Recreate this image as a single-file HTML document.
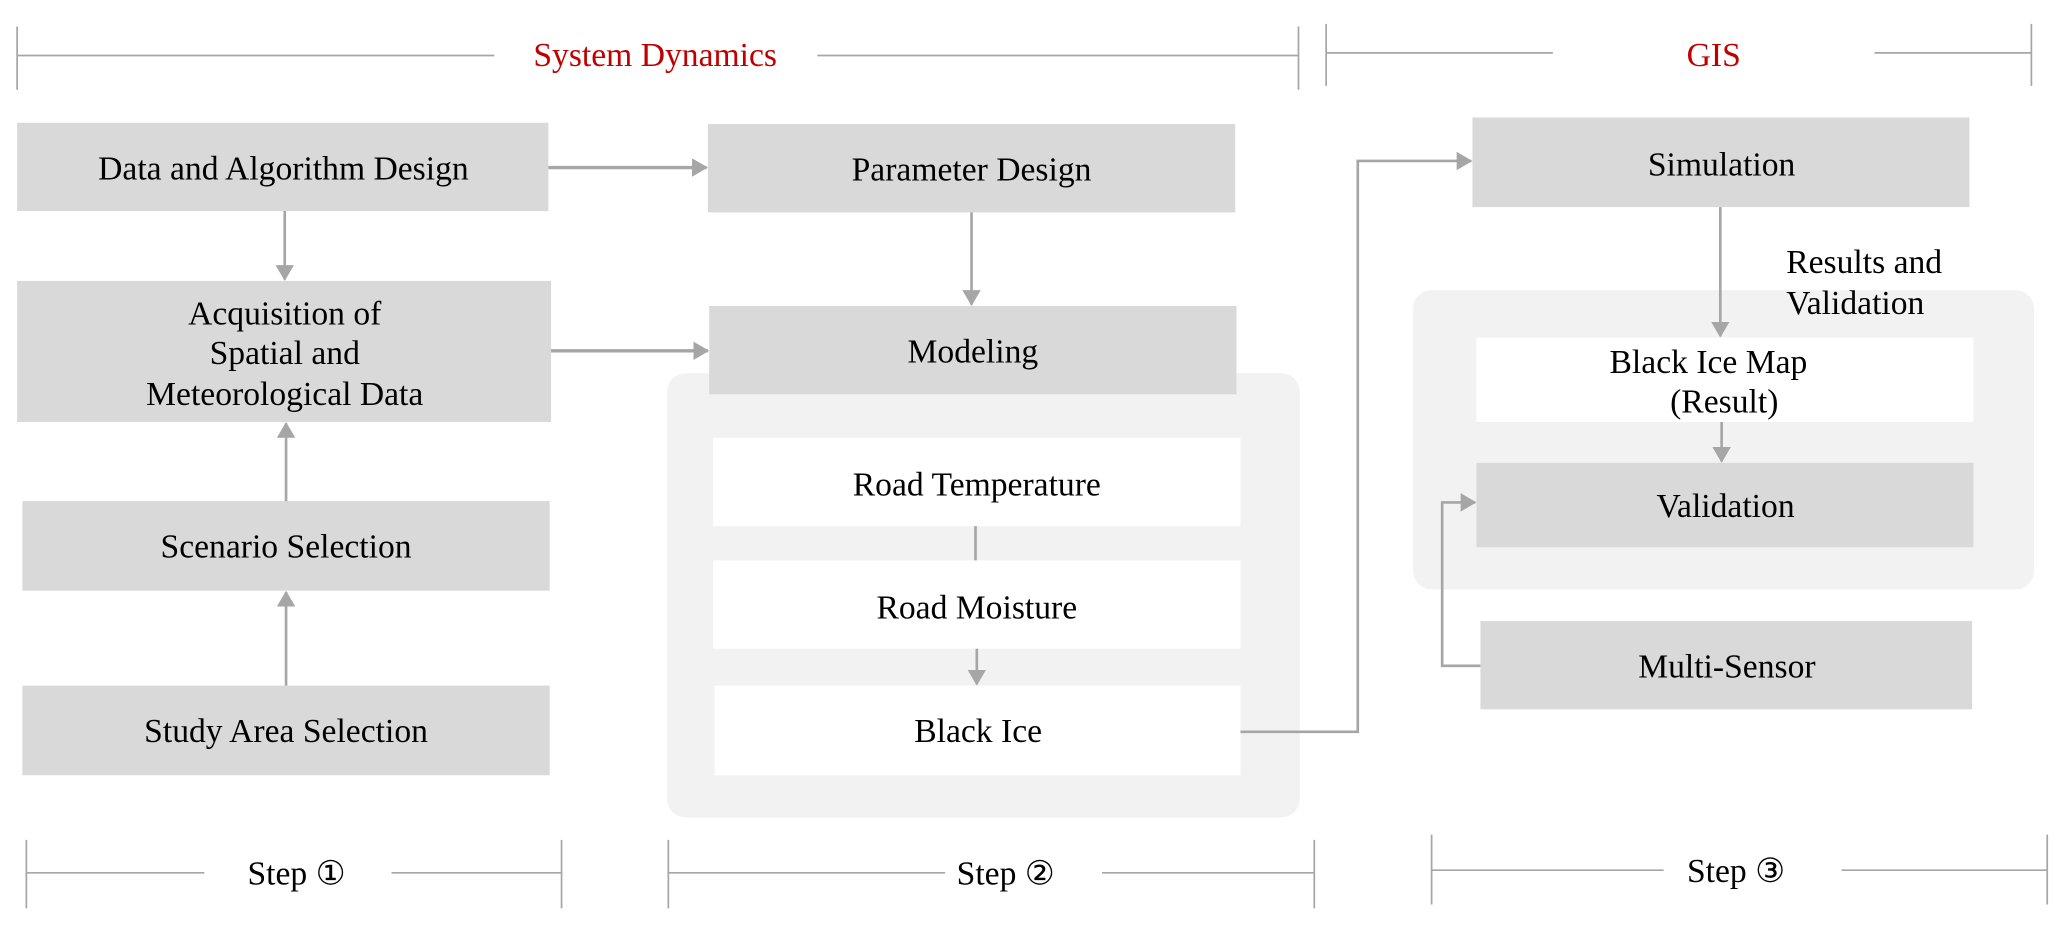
<!DOCTYPE html>
<html><head><meta charset="utf-8"><style>html,body{margin:0;padding:0;background:#fff}svg{display:block}</style></head>
<body>
<svg width="2067" height="927" viewBox="0 0 1568 703" xmlns="http://www.w3.org/2000/svg" font-family="'Liberation Serif', serif" font-size="25.5">
<defs>
<marker id="b" markerWidth="12" markerHeight="14" refX="11" refY="7" orient="auto" markerUnits="userSpaceOnUse"><path d="M0,0 L12,7 L0,14 Z" fill="#a6a6a6"/></marker>
</defs>
<g stroke="#a6a6a6" stroke-width="1.3" fill="none">
<path d="M13,20V68M985,20V68M13,42H375M620,42H985"/>
<path d="M1006,18V65M1541,18V65M1006,40H1178M1422,40H1541"/>
<path d="M20,637V689M426,637V689M20,662H155M297,662H426"/>
<path d="M507,637V689M997,637V689M507,662H717M836,662H997"/>
<path d="M1086,633V686M1553,633V686M1086,660H1262M1397,660H1553"/>
</g>
<g fill="#c00000" text-anchor="middle" dominant-baseline="central">
<text x="497" y="42">System Dynamics</text>
<text x="1300" y="42">GIS</text>
</g>
<rect x="506" y="283" width="480" height="337" rx="14" fill="#f2f2f2"/>
<rect x="1072" y="220" width="471" height="227" rx="14" fill="#f2f2f2"/>
<g fill="#d9d9d9">
<rect x="13" y="93" width="403" height="67"/>
<rect x="13" y="213" width="405" height="107"/>
<rect x="17" y="380" width="400" height="68"/>
<rect x="17" y="520" width="400" height="68"/>
<rect x="537" y="94" width="400" height="67"/>
<rect x="538" y="232" width="400" height="67"/>
<rect x="1117" y="89" width="377" height="68"/>
<rect x="1120" y="351" width="377" height="64"/>
<rect x="1123" y="471" width="373" height="67"/>
</g>
<g fill="#fff">
<rect x="541" y="332" width="400" height="67"/>
<rect x="541" y="425" width="400" height="67"/>
<rect x="542" y="520" width="399" height="68"/>
<rect x="1120" y="256" width="377" height="64"/>
</g>
<g stroke="#a6a6a6" stroke-width="2" fill="none">
<path d="M416,127H536" marker-end="url(#b)" stroke-width="2.5"/>
<path d="M418,266H537" marker-end="url(#b)" stroke-width="2.5"/>
<path d="M216,160V212" marker-end="url(#b)"/>
<path d="M217,380V321" marker-end="url(#b)"/>
<path d="M217,520V449" marker-end="url(#b)"/>
<path d="M737,161V231" marker-end="url(#b)"/>
<path d="M740,399V425"/>
<path d="M741,492V519" marker-end="url(#b)"/>
<path d="M941,555H1030V122H1116" marker-end="url(#b)"/>
<path d="M1305,157V255" marker-end="url(#b)"/>
<path d="M1306,320V350" marker-end="url(#b)"/>
<path d="M1123,505H1094V381H1119" marker-end="url(#b)"/>
</g>
<g fill="#000" text-anchor="middle" dominant-baseline="central">
<text x="215" y="128">Data and Algorithm Design</text>
<text x="216" y="238">Acquisition of</text>
<text x="216" y="268">Spatial and</text>
<text x="216" y="299">Meteorological Data</text>
<text x="217" y="415">Scenario Selection</text>
<text x="217" y="555">Study Area Selection</text>
<text x="737" y="129">Parameter Design</text>
<text x="738" y="267">Modeling</text>
<text x="741" y="368">Road Temperature</text>
<text x="741" y="461">Road Moisture</text>
<text x="742" y="555">Black Ice</text>
<text x="1306" y="125">Simulation</text>
<text x="1296" y="275">Black Ice Map</text>
<text x="1308" y="305">(Result)</text>
<text x="1309" y="384">Validation</text>
<text x="1310" y="506">Multi-Sensor</text>
<text x="225" y="663">Step ①</text>
<text x="763" y="663">Step ②</text>
<text x="1317" y="661">Step ③</text>
</g>
<g fill="#000" dominant-baseline="central">
<text x="1355" y="199">Results and</text>
<text x="1355" y="230">Validation</text>
</g>
</svg>
</body></html>
